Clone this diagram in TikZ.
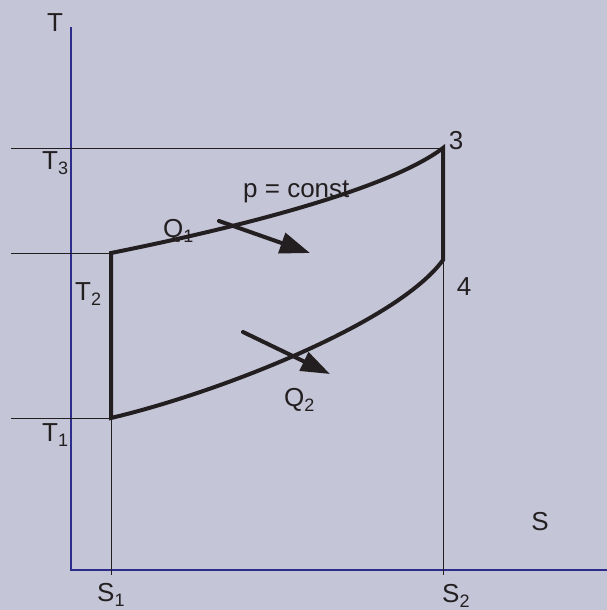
\documentclass[tikz,border=0pt]{standalone}
\usepackage{fontspec}
\setmainfont{Liberation Sans}
\usetikzlibrary{arrows.meta}

\definecolor{bgcol}{RGB}{197,197,216}
\definecolor{axiscol}{RGB}{44,44,138}
\definecolor{inkcol}{RGB}{35,31,32}
\newcommand{\lowsub}[1]{\raisebox{-5pt}{\fontsize{18}{20}\selectfont #1}}

\begin{document}
\begin{tikzpicture}[
    x=1pt, y=-1pt,
    font=\fontsize{26}{30}\selectfont,
    lbl/.style    ={inner sep=0pt, text=inkcol},
    axis/.style   ={draw=axiscol, line width=1.3pt},
    guide/.style  ={draw=inkcol, line width=1pt},
    process/.style={draw=inkcol, line width=4pt, line join=miter},
    heat/.style   ={draw=inkcol, line width=4pt, line cap=round, -{Triangle[length=30pt,width=21pt]}},
]

%==================== CANVAS ====================

\fill[bgcol] (0,0) rectangle (607,610);
\useasboundingbox (0,0) rectangle (607,610);

%==================== STATE POINTS ====================

\coordinate (p1) at (111,418);
\coordinate (p2) at (111,253);
\coordinate (p3) at (443,148);
\coordinate (p4) at (443,260);

\coordinate (origin) at (71,570);
\coordinate (tend)   at (71,27);
\coordinate (send)   at (607,570);

%==================== AXES AND GUIDES ====================

\draw[axis] (tend) -- (origin) -- (send);

\draw[guide] (11,148) -- (p3);
\draw[guide] (11,253) -- (p2);
\draw[guide] (11,418) -- (p1);
\draw[guide] (p1) -- (111,575);
\draw[guide] (p4) -- (443,575);

%==================== CYCLE ====================

\draw[process] (p1) -- (p2)
    .. controls (221,231) and (385,192) .. (p3)
    -- (p4)
    .. controls (398,322) and (221,392) .. (p1) -- cycle;

%==================== HEAT FLOWS ====================

\coordinate (q1a) at (219,221);
\coordinate (q1b) at (310,253);
\coordinate (q2a) at (243,332);
\coordinate (q2b) at (330,374);

\draw[heat] (q1a) -- (q1b);
\draw[heat, -{Triangle[length=29pt,width=20pt]}] (q2a) -- (q2b);

%==================== LABELS ====================

\node[lbl] (tlab) at (55,23) {T};
\node[lbl] (slab) at (540,522) {S};
\node[lbl, anchor=base west] (t3) at (42,169) {T\lowsub{3}};
\node[lbl, anchor=base west] (t2) at (75,300) {T\lowsub{2}};
\node[lbl, anchor=base west] (t1) at (42,441) {T\lowsub{1}};
\node[lbl, anchor=base west] (s1) at (97,601) {S\lowsub{1}};
\node[lbl, anchor=base west] (s2) at (442,602) {S\lowsub{2}};
\node[lbl] (n3) at (456,141) {3};
\node[lbl] (n4) at (464,287) {4};
\node[lbl, anchor=base west] (pc) at (243,197) {p = const};
\node[lbl, anchor=base west] (q1) at (163,237) {Q\lowsub{1}};
\node[lbl, anchor=base west] (q2) at (284,406) {Q\lowsub{2}};

\end{tikzpicture}
\end{document}
